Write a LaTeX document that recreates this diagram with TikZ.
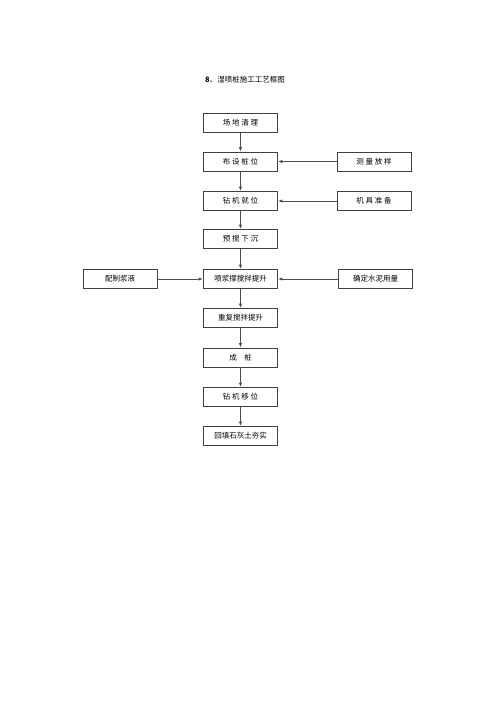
\documentclass[tikz,border=0pt]{standalone}
\usepackage{fontspec}
\newfontfamily\cjk{Noto Sans CJK SC}
\usetikzlibrary{arrows.meta}
\begin{document}
\begin{tikzpicture}[x=1pt,y=-1pt,
  box/.style={draw=black!75,line width=0.9pt,minimum width=74pt,minimum height=19pt,inner sep=0pt,font=\cjk\fontsize{7.5}{9}\selectfont},
  arr/.style={draw=black!70,line width=1pt,-{Latex[length=4.5pt,width=3.5pt]}}]
\useasboundingbox (0,0) rectangle (500,707);
\node[font=\cjk\fontsize{7.5}{9}\selectfont] (title) at (245,80) {\textbf{8}、湿喷桩施工工艺框图};
\node[box] (b1) at (240.5,123) {场\ 地\ 清\ 理};
\node[box] (b2) at (240.5,161.5) {布\ 设\ 桩\ 位};
\node[box] (b3) at (240.5,201) {钻\ 机\ 就\ 位};
\node[box] (b4) at (240.5,239) {预\ 搅\ 下\ 沉};
\node[box] (b5) at (240.5,279) {喷浆撑搅拌提升};
\node[box] (b6) at (240.5,318) {重复搅拌提升};
\node[box] (b7) at (240.5,357.5) {成\quad 桩};
\node[box] (b8) at (240.5,397) {钻\ 机\ 移\ 位};
\node[box] (b9) at (240.5,436) {回填石灰土夯实};
\node[box] (r1) at (374,161.5) {测\ 量\ 放\ 样};
\node[box] (r2) at (374,201) {机\ 具\ 准\ 备};
\node[box] (r3) at (375.5,279) {确定水泥用量};
\node[box] (l1) at (120,279) {配制浆液};
\draw[arr] (b1) -- (b2);
\draw[arr] (b2) -- (b3);
\draw[arr] (b3) -- (b4);
\draw[arr] (b4) -- (b5);
\draw[arr] (b5) -- (b6);
\draw[arr] (b6) -- (b7);
\draw[arr] (b7) -- (b8);
\draw[arr] (b8) -- (b9);
\draw[arr] (r1) -- (b2);
\draw[arr] (r2) -- (b3);
\draw[arr] (r3) -- (b5);
\draw[arr] (l1) -- (b5);
\end{tikzpicture}
\end{document}
